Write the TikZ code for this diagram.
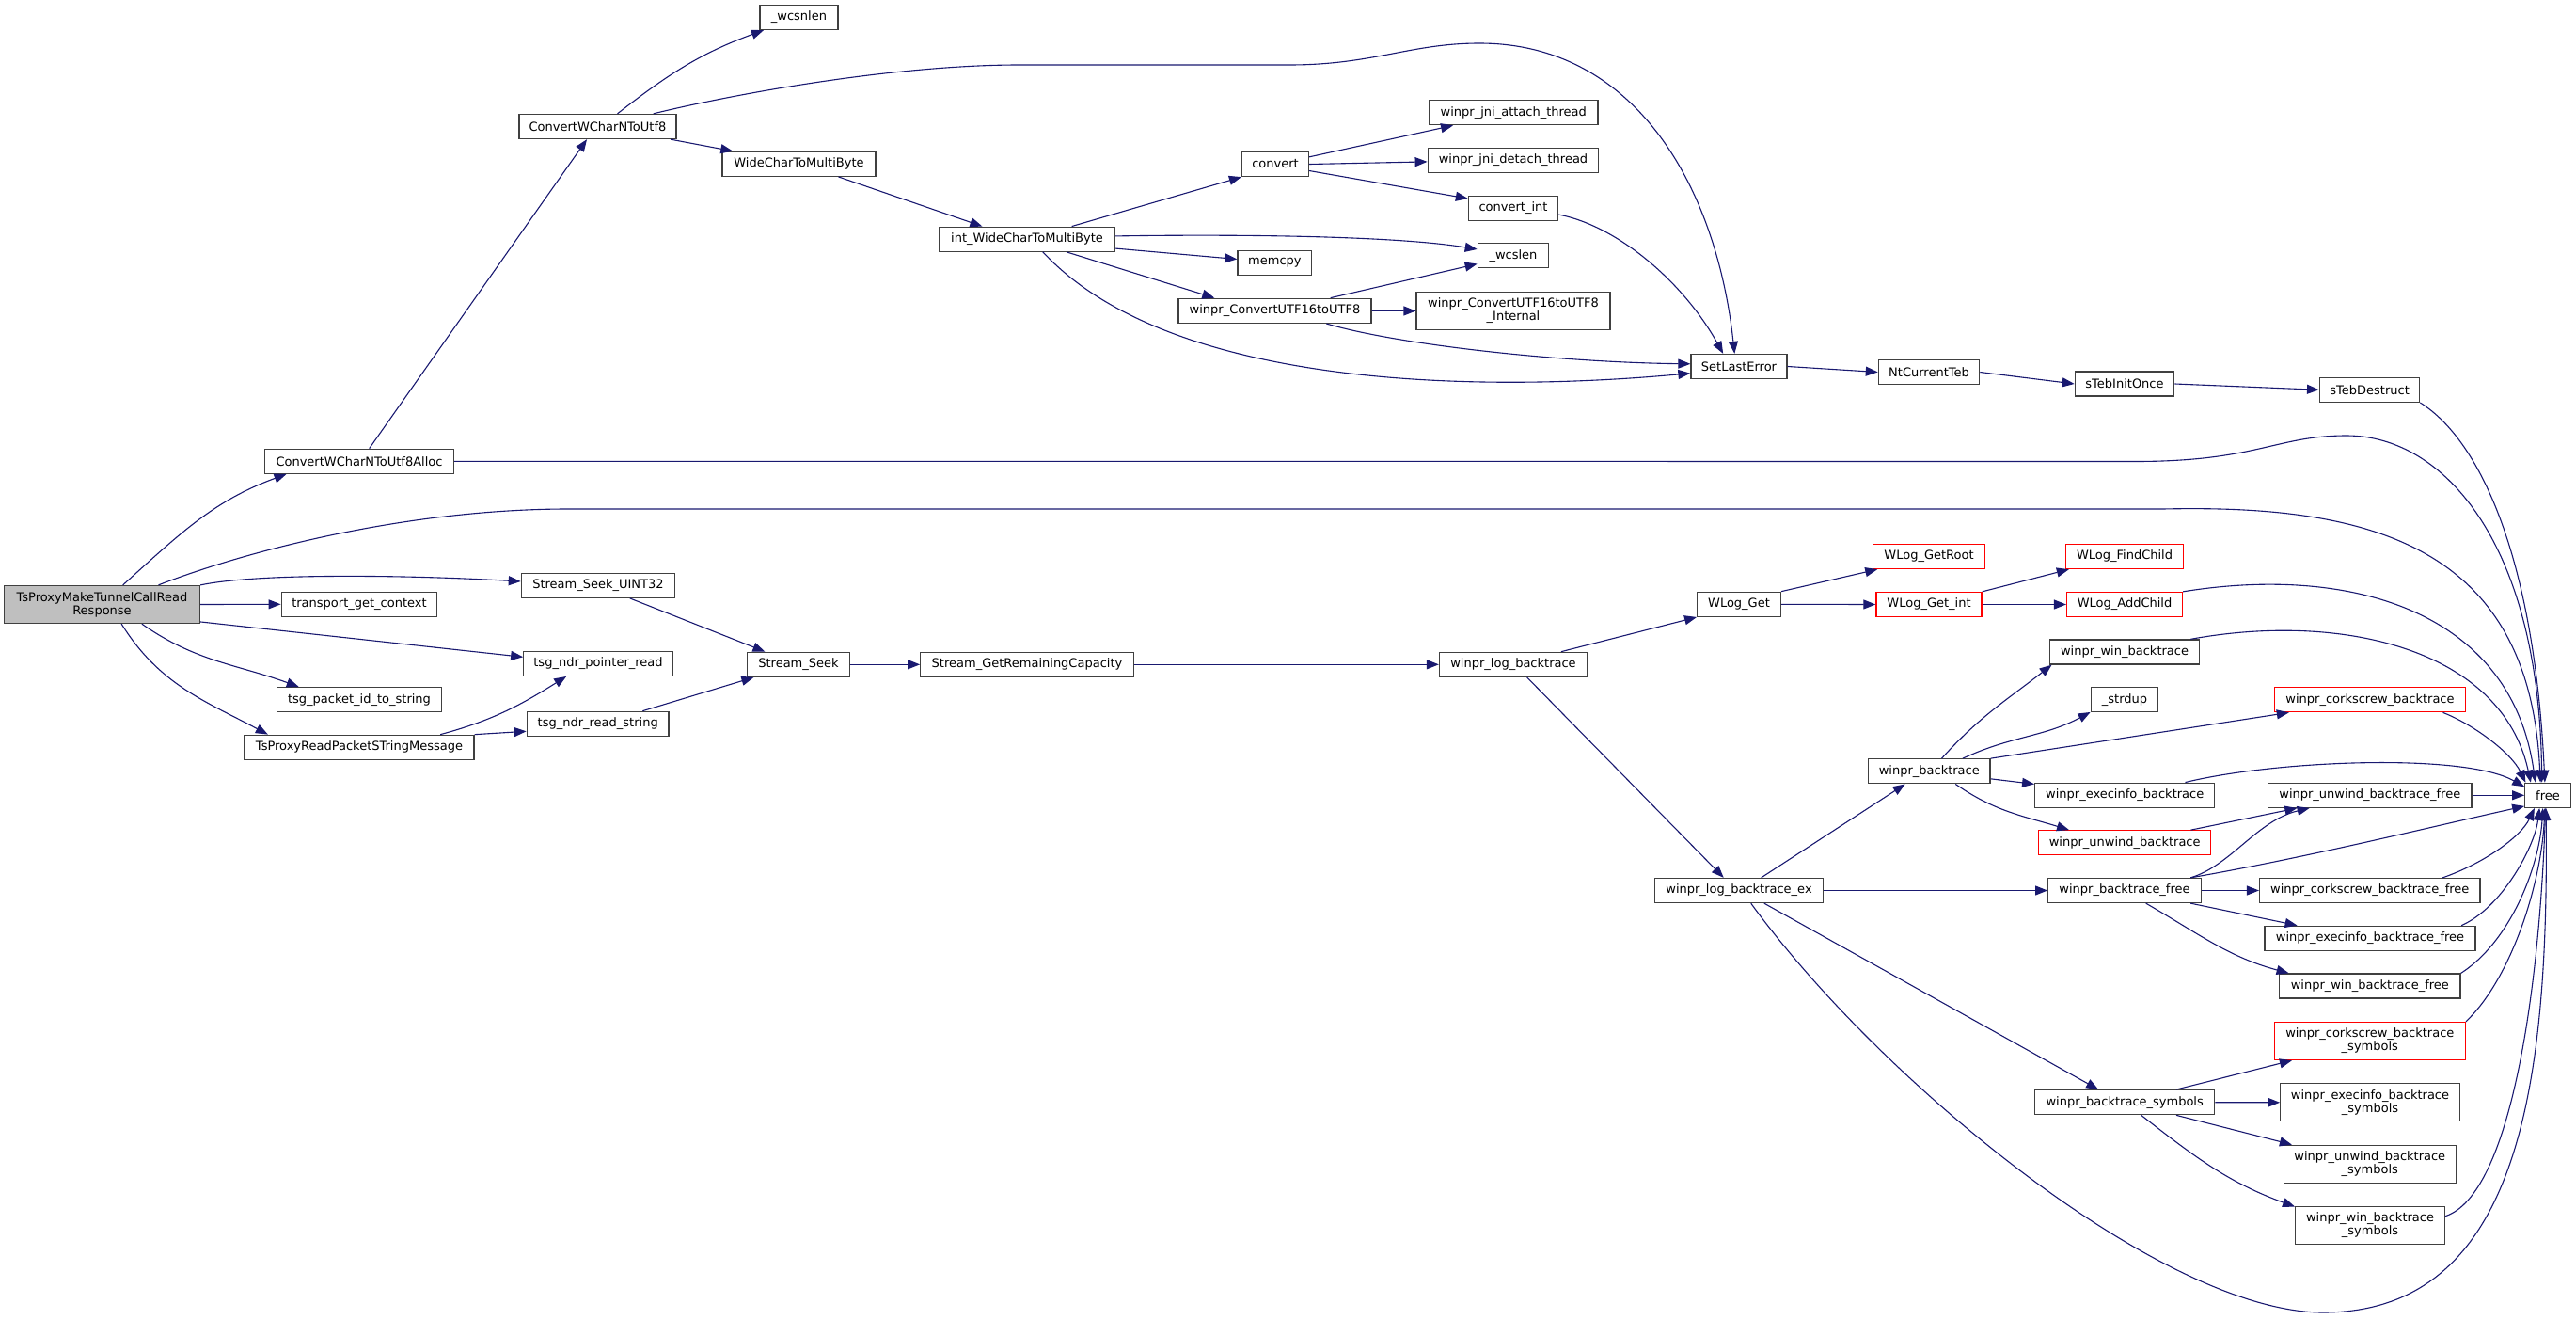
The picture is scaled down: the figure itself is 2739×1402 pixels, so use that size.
\documentclass[tikz,border=0pt]{standalone}
\usepackage{fontspec}
\setmainfont{DejaVu Sans}
\usepackage{tikz}
\usetikzlibrary{arrows.meta}
\definecolor{edgeblue}{RGB}{25,25,112}
\definecolor{boxgray}{RGB}{64,64,64}
\definecolor{rootfill}{RGB}{191,191,191}
\tikzstyle{func}     = [rectangle, draw=boxgray, line width=0.65pt, fill=white, minimum height=13pt, inner sep=1pt, text centered, align=center, font=\fontsize{6.5}{7}\selectfont]
\tikzstyle{funcred}  = [func, draw=red]
\tikzstyle{funcroot} = [func, fill=rootfill]
\tikzstyle{tall}     = [minimum height=20pt]
\tikzstyle{call}     = [draw=edgeblue, line width=0.55pt, -{Triangle[length=6.5pt,width=5pt]}]

\begin{document}
\begin{tikzpicture}[x=0.5pt, y=-0.5pt]
    \useasboundingbox (0,0) rectangle (2739,1402);

    \node (main)      [funcroot, tall, minimum width=104pt] at (108.5,642.5) {TsProxyMakeTunnelCallRead\\Response};

    \node (cwAlloc)   [func, minimum width=100.4pt] at (382,490.3)   {ConvertWCharNToUtf8Alloc};
    \node (trCtx)     [func, minimum width=82.8pt]  at (382,642.3)   {transport\_get\_context};
    \node (pktId)     [func, minimum width=87.5pt]  at (382,743.7)   {tsg\_packet\_id\_to\_string};
    \node (readMsg)   [func, minimum width=122pt]   at (382,794.3)   {TsProxyReadPacketSTringMessage};

    \node (cwUtf8)    [func, minimum width=83.5pt]  at (635.5,134.5) {ConvertWCharNToUtf8};
    \node (seekU32)   [func, minimum width=81.6pt]  at (636,622.3)   {Stream\_Seek\_UINT32};
    \node (ptrRead)   [func, minimum width=79.2pt]  at (636,705.3)   {tsg\_ndr\_pointer\_read};
    \node (readStr)   [func, minimum width=75.4pt]  at (635.7,769.3) {tsg\_ndr\_read\_string};

    \node (wcsnlen)   [func, minimum width=41.5pt]  at (849.5,18.5)  {\_wcsnlen};
    \node (wc2mb)     [func, minimum width=81.5pt]  at (849.5,174.3) {WideCharToMultiByte};
    \node (seek)      [func, minimum width=54.3pt]  at (849,706.3)   {Stream\_Seek};

    \node (iwc2mb)    [func, minimum width=93.4pt]  at (1092,254.2)  {int\_WideCharToMultiByte};
    \node (remCap)    [func, minimum width=113.2pt] at (1092,706.3)  {Stream\_GetRemainingCapacity};

    \node (conv)      [func, minimum width=35.5pt]  at (1356,174.5)  {convert};
    \node (memcpy)    [func, minimum width=39.4pt]  at (1355.4,279.7) {memcpy};
    \node (utf16)     [func, minimum width=102.5pt] at (1355.5,330.3) {winpr\_ConvertUTF16toUTF8};

    \node (jniAttach) [func, minimum width=89.7pt]  at (1609.3,119.7) {winpr\_jni\_attach\_thread};
    \node (jniDetach) [func, minimum width=90.8pt]  at (1609,170.3)  {winpr\_jni\_detach\_thread};
    \node (convInt)   [func, minimum width=47.5pt]  at (1609,221.3)  {convert\_int};
    \node (wcslen)    [func, minimum width=37.7pt]  at (1609,271.7)  {\_wcslen};
    \node (utf16int)  [func, tall, minimum width=102.9pt] at (1609,330.5) {winpr\_ConvertUTF16toUTF8\\\_Internal};
    \node (logBt)     [func, minimum width=78.5pt]  at (1609,706.3)  {winpr\_log\_backtrace};

    \node (setErr)    [func, minimum width=51pt]    at (1849,389.5)  {SetLastError};
    \node (wlGet)     [func, minimum width=44.3pt]  at (1849,642.3)  {WLog\_Get};
    \node (logBtEx)   [func, minimum width=89.5pt]  at (1849,946.5)  {winpr\_log\_backtrace\_ex};

    \node (ntTeb)     [func, minimum width=53.6pt]  at (2051,395.5)  {NtCurrentTeb};
    \node (wlRoot)    [funcred, minimum width=59.2pt] at (2051,591.5) {WLog\_GetRoot};
    \node (wlInt)     [funcred, minimum width=56pt] at (2051,642.5)  {WLog\_Get\_int};
    \node (bt)        [func, minimum width=64.7pt]  at (2051.3,819.8) {winpr\_backtrace};

    \node (tebInit)   [func, minimum width=52.7pt]  at (2259,408)    {sTebInitOnce};
    \node (wlFind)    [funcred, minimum width=62.6pt] at (2259,591.5) {WLog\_FindChild};
    \node (wlAdd)     [funcred, minimum width=61.4pt] at (2259,642.5) {WLog\_AddChild};
    \node (winBt)     [func, minimum width=79.2pt]  at (2259,693)    {winpr\_win\_backtrace};
    \node (strdup)    [func, minimum width=35.7pt]  at (2259,743.7)  {\_strdup};
    \node (execBt)    [func, minimum width=95.5pt]  at (2259.2,845.2) {winpr\_execinfo\_backtrace};
    \node (unwBt)     [funcred, minimum width=91.5pt] at (2259.2,895.8) {winpr\_unwind\_backtrace};
    \node (btFree)    [func, minimum width=81.3pt]  at (2259,946.5)  {winpr\_backtrace\_free};
    \node (btSym)     [func, minimum width=95.5pt]  at (2259.2,1171.7) {winpr\_backtrace\_symbols};

    \node (tebDestr)  [func, minimum width=53pt]    at (2519.6,414.3) {sTebDestruct};
    \node (corkBt)    [funcred, minimum width=101.2pt] at (2520,743.7) {winpr\_corkscrew\_backtrace};
    \node (unwFree)   [func, minimum width=108.2pt] at (2519.8,845.3) {winpr\_unwind\_backtrace\_free};
    \node (corkFree)  [func, minimum width=117.2pt] at (2519.8,946.5) {winpr\_corkscrew\_backtrace\_free};
    \node (execFree)  [func, minimum width=112pt]   at (2520,997.3)  {winpr\_execinfo\_backtrace\_free};
    \node (winFree)   [func, minimum width=96.2pt]  at (2519.8,1048) {winpr\_win\_backtrace\_free};
    \node (corkSym)   [funcred, tall, minimum width=101.5pt] at (2519.8,1106.5) {winpr\_corkscrew\_backtrace\\\_symbols};
    \node (execSym)   [func, tall, minimum width=95.3pt] at (2520,1171.8) {winpr\_execinfo\_backtrace\\\_symbols};
    \node (unwSym)    [func, tall, minimum width=91.5pt] at (2519.8,1237.3) {winpr\_unwind\_backtrace\\\_symbols};
    \node (winSym)    [func, tall, minimum width=79.3pt] at (2520,1302.5) {winpr\_win\_backtrace\\\_symbols};

    \node (free)      [func, minimum width=24.2pt]  at (2709,845.3)  {free};

    \draw [call] (main.43) to[out=42,in=200] (cwAlloc.190);
    \draw [call] (main.19) .. controls (250,590) and (420,542) .. (600,541) -- (2300,541) .. controls (2520,536) and (2690,580) .. (free.120);
    \draw [call] (main.north east) .. controls (280,608) and (450,612) .. (seekU32.177);
    \draw [call] (main.east) -- (trCtx.west);
    \draw [call] (main.-10) -- (ptrRead.175);
    \draw [call] (main.334) to[out=-35,in=160] (pktId.168);
    \draw [call] (main.315) to[out=-58,in=152] (readMsg.172);

    \draw [call] (cwAlloc.52) -- (cwUtf8.230);
    \draw [call] (cwAlloc.east) -- (2270,490.5) .. controls (2400,490.5) and (2420,463) .. (2495,463) .. controls (2600,463) and (2700,580) .. (free.115);

    \draw [call] (cwUtf8.33) to[out=38,in=200] (wcsnlen.200);
    \draw [call] (cwUtf8.13) .. controls (780,100) and (950,69) .. (1084,69) -- (1371,69) .. controls (1460,69) and (1500,46) .. (1573,46) .. controls (1740,46) and (1825,200) .. (setErr.109);
    \draw [call] (cwUtf8.350) -- (wc2mb.169);
    \draw [call] (wc2mb.342) -- (iwc2mb.164);

    \draw [call] (iwc2mb.16) -- (conv.south west);
    \draw [call] (iwc2mb.2) .. controls (1300,249) and (1480,250) .. (wcslen.170);
    \draw [call] (iwc2mb.354) -- (memcpy.174);
    \draw [call] (iwc2mb.342) -- (utf16.168);
    \draw [call] (iwc2mb.321) .. controls (1250,420) and (1600,415) .. (setErr.188);

    \draw [call] (conv.12) -- (jniAttach.192);
    \draw [call] (conv.east) -- (jniDetach.181);
    \draw [call] (conv.349) -- (convInt.168);
    \draw [call] (convInt.352) .. controls (1720,240) and (1790,300) .. (setErr.141);

    \draw [call] (utf16.13) -- (wcslen.193);
    \draw [call] (utf16.east) -- (utf16int.west);
    \draw [call] (utf16.346) .. controls (1480,365) and (1650,385) .. (setErr.177);

    \draw [call] (setErr.east) -- (ntTeb.west);
    \draw [call] (ntTeb.east) -- (tebInit.west);
    \draw [call] (tebInit.east) -- (tebDestr.west);
    \draw [call] (tebDestr.south east) .. controls (2640,470) and (2695,600) .. (free.103);

    \draw [call] (seekU32.338) -- (seek.159);
    \draw [call] (readMsg.9) to[out=15,in=212] (ptrRead.202);
    \draw [call] (readMsg.north east) -- (readStr.186);
    \draw [call] (readStr.16) -- (seek.196);
    \draw [call] (seek.east) -- (remCap.west);
    \draw [call] (remCap.east) -- (logBt.west);

    \draw [call] (logBt.15) -- (wlGet.south west);
    \draw [call] (logBt.317) -- (logBtEx.140);
    \draw [call] (wlGet.north east) -- (wlRoot.194);
    \draw [call] (wlGet.east) -- (wlInt.west);
    \draw [call] (wlInt.north east) -- (wlFind.193);
    \draw [call] (wlInt.east) -- (wlAdd.west);
    \draw [call] (wlAdd.north east) .. controls (2500,600) and (2670,650) .. (free.134);

    \draw [call] (logBtEx.30) -- (bt.208);
    \draw [call] (logBtEx.east) -- (btFree.west);
    \draw [call] (logBtEx.333) -- (btSym.154);
    \draw [call] (logBtEx.313) .. controls (2000,1150) and (2300,1395) .. (2470,1395) .. controls (2680,1395) and (2710,1150) .. (free.262);

    \draw [call] (bt.46) to[out=48,in=218] (winBt.190);
    \draw [call] (bt.21) to[out=25,in=208] (strdup.200);
    \draw [call] (bt.north east) -- (corkBt.189);
    \draw [call] (bt.353) -- (execBt.173);
    \draw [call] (bt.334) to[out=-35,in=163] (unwBt.167);

    \draw [call] (winBt.11) .. controls (2490,650) and (2660,690) .. (free.143);
    \draw [call] (corkBt.350) .. controls (2630,770) and (2670,800) .. (free.150);
    \draw [call] (execBt.12) .. controls (2420,808) and (2620,800) .. (free.160);
    \draw [call] (unwBt.11) -- (unwFree.190);
    \draw [call] (unwFree.east) -- (free.west);

    \draw [call] (btFree.11) .. controls (2372,920) and (2400,872) .. (unwFree.192);
    \draw [call] (btFree.11) .. controls (2450,912) and (2580,880) .. (free.205);
    \draw [call] (btFree.east) -- (corkFree.west);
    \draw [call] (btFree.349) -- (execFree.170);
    \draw [call] (btFree.329) to[out=-30,in=165] (winFree.171);
    \draw [call] (corkFree.10) .. controls (2640,918) and (2680,890) .. (free.224);
    \draw [call] (execFree.8) .. controls (2660,965) and (2695,900) .. (free.237);
    \draw [call] (winFree.north east) .. controls (2670,1000) and (2700,920) .. (free.249);

    \draw [call] (btSym.14) -- (corkSym.194);
    \draw [call] (btSym.east) -- (execSym.west);
    \draw [call] (btSym.346) -- (unwSym.166);
    \draw [call] (btSym.322) to[out=-38,in=160] (winSym.166);
    \draw [call] (corkSym.north east) .. controls (2670,1040) and (2702,940) .. (free.257);
    \draw [call] (winSym.7) .. controls (2670,1270) and (2700,1050) .. (free.260);

\end{tikzpicture}
\end{document}
